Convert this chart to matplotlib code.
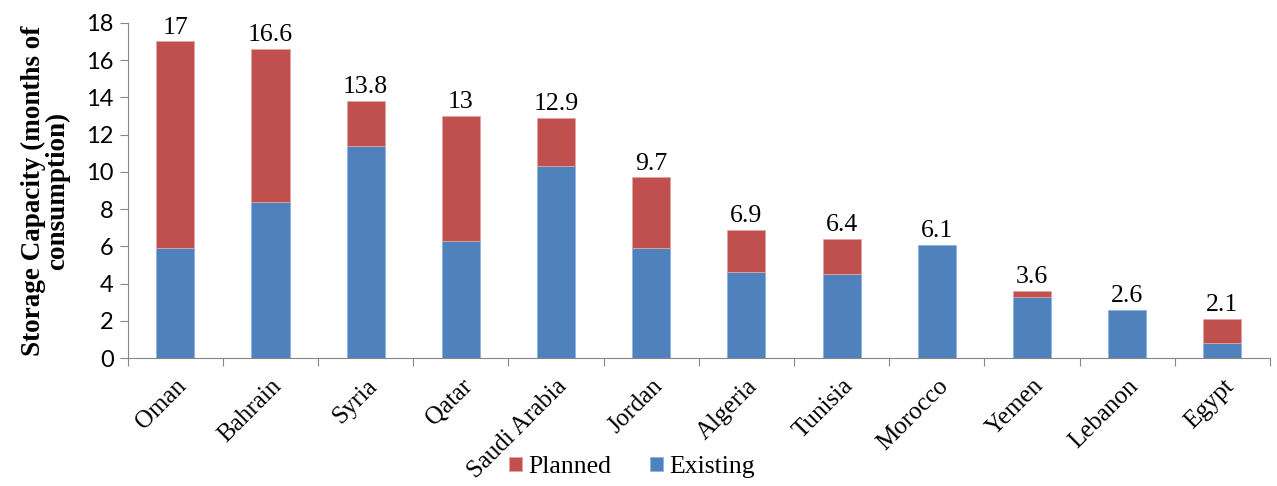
import matplotlib.pyplot as plt
import numpy as np

# data
countries = ["Oman", "Bahrain", "Syria", "Qatar", "Saudi Arabia", "Jordan",
             "Algeria", "Tunisia", "Morocco", "Yemen", "Lebanon", "Egypt"]
totals = [17, 16.6, 13.8, 13, 12.9, 9.7, 6.9, 6.4, 6.1, 3.6, 2.6, 2.1]
existing = [5.9, 8.4, 11.4, 6.3, 10.3, 5.9, 4.6, 4.5, 6.1, 3.3, 2.6, 0.8]
planned = [round(t - e, 2) for t, e in zip(totals, existing)]
total_labels = ["17", "16.6", "13.8", "13", "12.9", "9.7", "6.9", "6.4",
                "6.1", "3.6", "2.6", "2.1"]

blue = "#4F81BD"
red = "#C0504D"
grey = "#868686"
serif = "Liberation Serif"

plt.rcParams["font.family"] = [serif, "DejaVu Serif"]

fig = plt.figure(figsize=(12.77, 4.86), dpi=100)
ax = fig.add_axes([0.100, 0.263, 0.8945, 0.69])

x = np.arange(len(countries))
b_exist = ax.bar(x, existing, width=0.4, color=blue, edgecolor="#8EB4E3",
                 linewidth=0.6, label="Existing")
plan_lw = [0.6 if p > 0 else 0 for p in planned]
b_plan = ax.bar(x, planned, width=0.4, bottom=existing, color=red,
                edgecolor="#E6A4A2", linewidth=plan_lw, label="Planned")

for xi, t, lab in zip(x, totals, total_labels):
    ax.annotate(lab, (xi, t), xytext=(0, 2), textcoords="offset points",
                ha="center", va="bottom", fontsize=18.5)

ax.set_xlim(-0.5, len(countries) - 0.5)
ax.set_ylim(0, 18)
ax.set_yticks(range(0, 19, 2))
ax.set_yticklabels([str(v) for v in range(0, 19, 2)], fontsize=17,
                   family="Lato")

# x ticks between categories, labels at bar centres
ax.set_xticks(np.arange(-0.5, len(countries), 1))
ax.set_xticklabels([])
ax.set_xticks(x, minor=True)
ax.set_xticklabels(countries, minor=True, rotation=45, ha="right",
                   rotation_mode="anchor", fontsize=18)
ax.tick_params(axis="x", which="minor", length=0, pad=12)
ax.tick_params(axis="x", which="major", length=6, color=grey)
ax.tick_params(axis="y", length=6, color=grey, pad=4)

for side in ["top", "right"]:
    ax.spines[side].set_visible(False)
for side in ["left", "bottom"]:
    ax.spines[side].set_color(grey)

ax.set_ylabel("Storage Capacity (months of\nconsumption)", fontsize=19.5,
              fontweight="bold", linespacing=0.9, labelpad=12)

fig.legend([b_plan, b_exist], ["Planned", "Existing"], loc="center",
           bbox_to_anchor=(0.495, 0.039), ncol=2, frameon=False,
           prop={"family": serif, "size": 18.5}, handlelength=0.5,
           handleheight=0.5, handletextpad=0.25, columnspacing=1.5)

fig.savefig("out.png", dpi=100)
